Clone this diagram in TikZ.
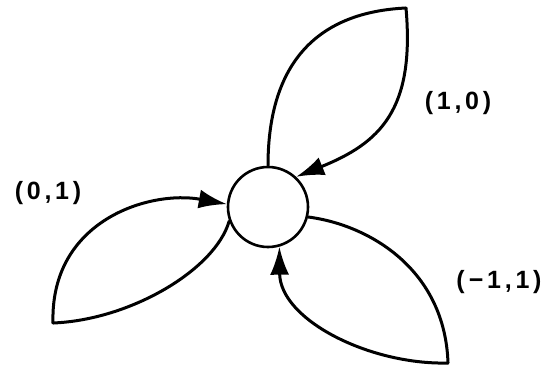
\documentclass[tikz,border=0pt]{standalone}
\usepackage{fontspec}
\setmainfont{Liberation Sans}
\usetikzlibrary{arrows.meta}
\begin{document}
\begin{tikzpicture}[x=1pt,y=-1pt,
  loopline/.style={line width=3pt, line cap=round, line join=round},
  arrowline/.style={loopline, -{Latex[length=28pt,width=19pt]}},
  lbl/.style={font=\fontsize{25}{27}\selectfont\bfseries\addfontfeature{LetterSpace=15}, inner sep=0pt}]
\useasboundingbox (0,0) rectangle (550,370);
\node[draw, circle, line width=2.6pt, minimum size=80pt, inner sep=0pt] (c) at (268,207) {};
\coordinate (t1) at (406,8);
\coordinate (t2) at (53,323);
\coordinate (t3) at (448,363);
% top loop
\draw[loopline] (c.north) .. controls (268,60) and (320,12) .. (t1);
\draw[arrowline] (t1) .. controls (415,110) and (380,143) .. (c.47);
% left loop
\draw[loopline] (c.200) .. controls (215,270) and (130,320) .. (t2);
\draw[arrowline] (t2) .. controls (50,220) and (150,190) .. (c.176);
% bottom-right loop
\draw[loopline] (c.-14) .. controls (370,225) and (445,270) .. (t3);
\draw[arrowline] (t3) .. controls (370,365) and (280,320) .. (c.-74);
% labels
\node[lbl] (l1) at (458,103) {(1,0)};
\node[lbl] (l2) at (48,193) {(0,1)};
\node[lbl] (l3) at (499,282) {(\,−1,1)};
\end{tikzpicture}
\end{document}
